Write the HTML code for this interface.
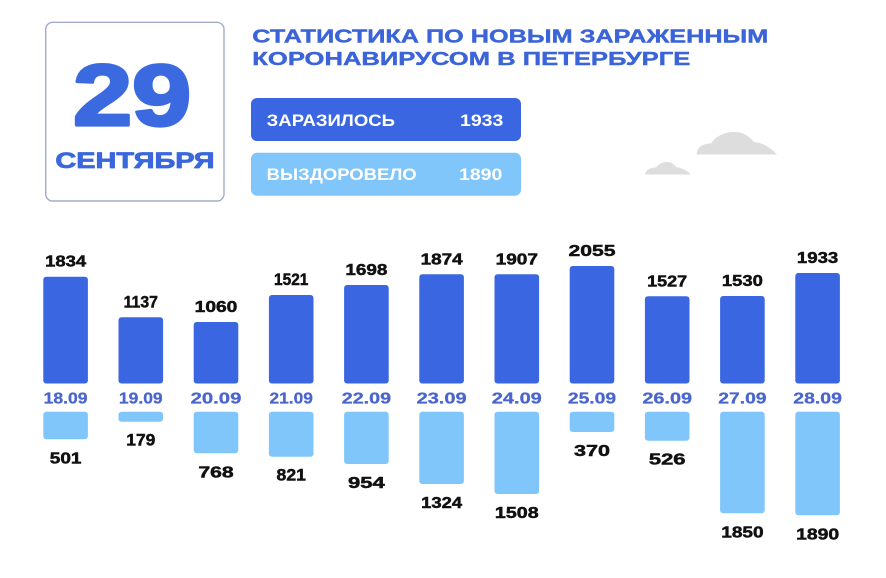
<!DOCTYPE html>
<html><head><meta charset="utf-8"><style>
html,body{margin:0;padding:0;background:#fff;}
svg{display:block;}
text{font-family:"Liberation Sans","DejaVu Sans",sans-serif;font-weight:700;}
</style></head><body>
<svg width="886" height="578" viewBox="0 0 886 578" xmlns="http://www.w3.org/2000/svg">
<rect width="886" height="578" fill="#fff"/>
<!-- date box -->
<rect x="45.7" y="22.3" width="178.3" height="178.7" rx="7" fill="#fff" stroke="#a2abcb" stroke-width="1.4"/>
<text x="73.2" y="125.2" font-size="86" fill="#3b6ae0" stroke="#3b6ae0" stroke-width="3.2" stroke-linejoin="round" textLength="118" lengthAdjust="spacingAndGlyphs">29</text>
<text x="55.4" y="167.9" font-size="22.2" fill="#3b67dc" stroke="#3b67dc" stroke-width="0.8" stroke-linejoin="round" textLength="159.2" lengthAdjust="spacingAndGlyphs">СЕНТЯБРЯ</text>
<!-- title -->
<text x="252.3" y="42.7" font-size="18.5" fill="#3a64d8" stroke="#3a64d8" stroke-width="0.4" textLength="516" lengthAdjust="spacingAndGlyphs">СТАТИСТИКА ПО НОВЫМ ЗАРАЖЕННЫМ</text>
<text x="252.3" y="65" font-size="18.5" fill="#3a64d8" stroke="#3a64d8" stroke-width="0.4" textLength="438" lengthAdjust="spacingAndGlyphs">КОРОНАВИРУСОМ В ПЕТЕРБУРГЕ</text>
<!-- legend pills -->
<rect x="251" y="98" width="270" height="43" rx="6" fill="#3a66e2"/>
<text x="266.7" y="126" font-size="17" fill="#fff" textLength="128.3" lengthAdjust="spacingAndGlyphs">ЗАРАЗИЛОСЬ</text>
<text x="460" y="126" font-size="17" fill="#fff" textLength="43.3" lengthAdjust="spacingAndGlyphs">1933</text>
<rect x="251" y="152.7" width="270" height="43" rx="6" fill="#80c6fb"/>
<text x="266.7" y="180" font-size="17" fill="#fff" textLength="150" lengthAdjust="spacingAndGlyphs">ВЫЗДОРОВЕЛО</text>
<text x="459" y="180" font-size="17" fill="#fff" textLength="43.3" lengthAdjust="spacingAndGlyphs">1890</text>
<!-- clouds -->
<path d="M696.7,154.5 C697,147 703,143.5 711,143.5 C716,135.5 726,131.5 736,132 C745,132.5 750,137.5 754,142 C764,143 771,148 777,154.5 Z" fill="#dddddd"/>
<path d="M645,174.5 C646,169.5 651,167.5 656,167.5 C659,163.5 663,162 667,162 C671,162 674,164 676,167 C682,168 687,170.5 691,174.5 Z" fill="#dddddd"/>

<g fill="#3a66e2">
<rect x="43.3" y="276.7" width="44.6" height="106.8" rx="3"/>
<rect x="118.5" y="317.3" width="44.6" height="66.2" rx="3"/>
<rect x="193.7" y="322" width="44.6" height="61.5" rx="3"/>
<rect x="268.9" y="295" width="44.6" height="88.5" rx="3"/>
<rect x="344.1" y="285" width="44.6" height="98.5" rx="3"/>
<rect x="419.3" y="274.3" width="44.6" height="109.2" rx="3"/>
<rect x="494.5" y="274.3" width="44.6" height="109.2" rx="3"/>
<rect x="569.7" y="266" width="44.6" height="117.5" rx="3"/>
<rect x="644.9" y="296.3" width="44.6" height="87.2" rx="3"/>
<rect x="720.1" y="296" width="44.6" height="87.5" rx="3"/>
<rect x="795.3" y="273" width="44.6" height="110.5" rx="3"/>
</g>
<g fill="#80c6fb">
<rect x="43.3" y="411.7" width="44.6" height="27.6" rx="3"/>
<rect x="118.5" y="411.7" width="44.6" height="10" rx="3"/>
<rect x="193.7" y="411.7" width="44.6" height="41.6" rx="3"/>
<rect x="268.9" y="411.7" width="44.6" height="45" rx="3"/>
<rect x="344.1" y="411.7" width="44.6" height="52.3" rx="3"/>
<rect x="419.3" y="411.7" width="44.6" height="72.3" rx="3"/>
<rect x="494.5" y="411.7" width="44.6" height="82.3" rx="3"/>
<rect x="569.7" y="411.7" width="44.6" height="20.3" rx="3"/>
<rect x="644.9" y="411.7" width="44.6" height="29" rx="3"/>
<rect x="720.1" y="411.7" width="44.6" height="101.6" rx="3"/>
<rect x="795.3" y="411.7" width="44.6" height="103.6" rx="3"/>
</g>

<!-- top labels -->
<g font-size="16" fill="#111" stroke="#111" stroke-width="0.5">
<text x="45.1" y="266.7" textLength="41" lengthAdjust="spacingAndGlyphs">1834</text>
<text x="123.65" y="307.3" font-size="16.5" textLength="34.3" lengthAdjust="spacingAndGlyphs">1137</text>
<text x="194.65" y="312" textLength="42.7" lengthAdjust="spacingAndGlyphs">1060</text>
<text x="274.05" y="285" font-size="16.5" textLength="34.3" lengthAdjust="spacingAndGlyphs">1521</text>
<text x="345.4" y="275" textLength="42" lengthAdjust="spacingAndGlyphs">1698</text>
<text x="420.6" y="264.3" textLength="42" lengthAdjust="spacingAndGlyphs">1874</text>
<text x="495.65" y="264.3" textLength="42.3" lengthAdjust="spacingAndGlyphs">1907</text>
<text x="568.5" y="256" textLength="47" lengthAdjust="spacingAndGlyphs">2055</text>
<text x="647.2" y="286.3" textLength="40" lengthAdjust="spacingAndGlyphs">1527</text>
<text x="721.9" y="286" textLength="41" lengthAdjust="spacingAndGlyphs">1530</text>
<text x="796.95" y="263" textLength="41.3" lengthAdjust="spacingAndGlyphs">1933</text>
</g>
<!-- dates -->
<g font-size="16" fill="#4a66cc" stroke="#4a66cc" stroke-width="0.3">
<text x="43.6" y="403.3" textLength="44" lengthAdjust="spacingAndGlyphs">18.09</text>
<text x="118.95" y="403.3" textLength="43.7" lengthAdjust="spacingAndGlyphs">19.09</text>
<text x="190.65" y="403.3" textLength="50.7" lengthAdjust="spacingAndGlyphs">20.09</text>
<text x="269.55" y="403.3" textLength="43.3" lengthAdjust="spacingAndGlyphs">21.09</text>
<text x="341.75" y="403.3" textLength="49.3" lengthAdjust="spacingAndGlyphs">22.09</text>
<text x="416.6" y="403.3" textLength="50" lengthAdjust="spacingAndGlyphs">23.09</text>
<text x="491.8" y="403.3" textLength="50" lengthAdjust="spacingAndGlyphs">24.09</text>
<text x="567.85" y="403.3" textLength="48.3" lengthAdjust="spacingAndGlyphs">25.09</text>
<text x="642.35" y="403.3" textLength="49.7" lengthAdjust="spacingAndGlyphs">26.09</text>
<text x="718.25" y="403.3" textLength="48.3" lengthAdjust="spacingAndGlyphs">27.09</text>
<text x="793.25" y="403.3" textLength="48.7" lengthAdjust="spacingAndGlyphs">28.09</text>
</g>
<!-- bottom labels -->
<g font-size="16" fill="#111" stroke="#111" stroke-width="0.5">
<text x="49.75" y="463.3" textLength="31.7" lengthAdjust="spacingAndGlyphs">501</text>
<text x="126.3" y="445.7" font-size="16.5" textLength="29" lengthAdjust="spacingAndGlyphs">179</text>
<text x="198.35" y="477.3" textLength="35.3" lengthAdjust="spacingAndGlyphs">768</text>
<text x="276.55" y="480.7" font-size="16.5" textLength="29.3" lengthAdjust="spacingAndGlyphs">821</text>
<text x="348.05" y="488" textLength="36.7" lengthAdjust="spacingAndGlyphs">954</text>
<text x="421.1" y="508" textLength="41" lengthAdjust="spacingAndGlyphs">1324</text>
<text x="494.95" y="518" textLength="43.7" lengthAdjust="spacingAndGlyphs">1508</text>
<text x="574" y="456" textLength="36" lengthAdjust="spacingAndGlyphs">370</text>
<text x="648.85" y="464.7" textLength="36.7" lengthAdjust="spacingAndGlyphs">526</text>
<text x="721.25" y="537.3" textLength="42.3" lengthAdjust="spacingAndGlyphs">1850</text>
<text x="796.1" y="539.3" textLength="43" lengthAdjust="spacingAndGlyphs">1890</text>
</g>
</svg>
</body></html>
